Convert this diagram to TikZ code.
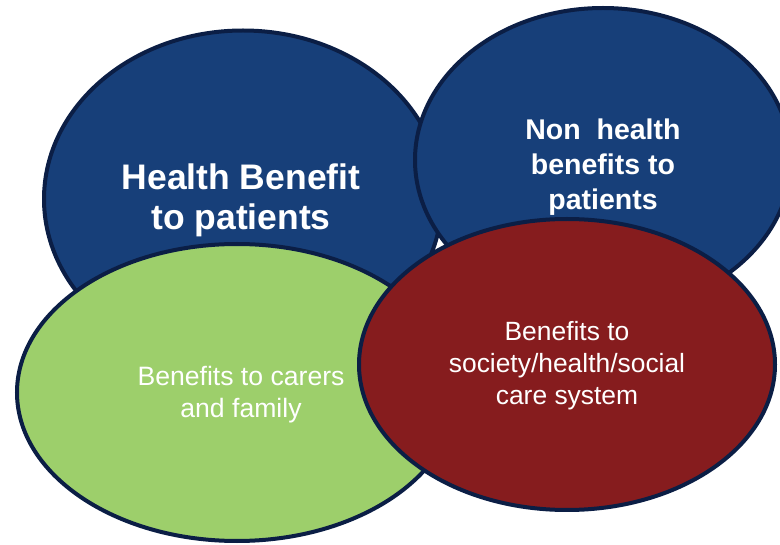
\documentclass[tikz,border=0pt]{standalone}
\usepackage{fontspec}
\setmainfont{Liberation Sans}
\usetikzlibrary{shapes.geometric}
\definecolor{navyline}{HTML}{0B1E45}
\definecolor{bluefill}{HTML}{173F79}
\definecolor{greenfill}{HTML}{9DCF6B}
\definecolor{redfill}{HTML}{861C1E}
\tikzset{
  bubble/.style={ellipse, draw=navyline, line width=4pt, inner sep=0pt, outer sep=0pt},
  boldlabel/.style={text=white, align=center, inner sep=0pt},
}
\begin{document}
\begin{tikzpicture}[x=1pt,y=-1pt]
\useasboundingbox (0,0) rectangle (780,545);
\node[bubble, fill=bluefill, minimum width=398pt, minimum height=337pt] (health) at (243,199) {};
\node[bubble, fill=bluefill, minimum width=376pt, minimum height=304pt] (nonhealth) at (603,160) {};
\node[bubble, fill=greenfill, minimum width=440pt, minimum height=297pt] (carers) at (237,392.5) {};
\node[bubble, fill=redfill, minimum width=416pt, minimum height=291pt] (society) at (567,364.5) {};
\node[boldlabel, font=\fontsize{35.5}{40}\selectfont\bfseries] (t1) at (241,200) {Health Benefit\\to patients};
\node[boldlabel, font=\fontsize{28.5}{35}\selectfont\bfseries] (t2) at (603,167) {Non\ \ health\\benefits to\\patients};
\node[boldlabel, font=\fontsize{26.6}{32}\selectfont] (t3) at (241,395) {Benefits to carers\\and family};
\node[boldlabel, font=\fontsize{26.4}{32}\selectfont] (t4) at (567,366) {Benefits to\\society/health/social\\care system};
\end{tikzpicture}
\end{document}
